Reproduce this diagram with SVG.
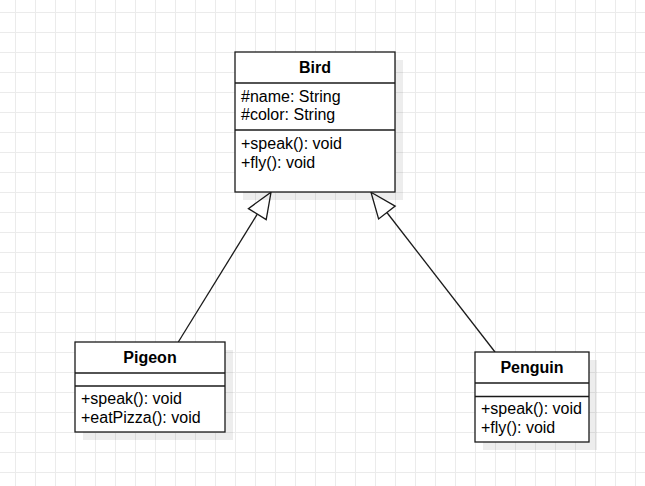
<svg xmlns="http://www.w3.org/2000/svg" width="645" height="486" viewBox="0 0 645 486">
<defs>
<pattern id="grid" x="15" y="12" width="20" height="20" patternUnits="userSpaceOnUse">
<path d="M0.5 0V20M0 0.5H20" fill="none" stroke="#ebebeb" stroke-width="1"/>
</pattern>
<style>
.box{fill:#fff;stroke:#1a1a1a;stroke-width:1.3}
.shadow{fill:#000;opacity:0.07}
.div{stroke:#1a1a1a;stroke-width:1.3}
.title{font-family:"Liberation Sans",Arial,sans-serif;font-size:16px;font-weight:bold;fill:#000;text-anchor:middle}
.t{font-family:"Liberation Sans",Arial,sans-serif;font-size:16px;fill:#000}
.edge{stroke:#1a1a1a;stroke-width:1.3;fill:none}
.head{fill:#fff;stroke:#1a1a1a;stroke-width:1.3;stroke-linejoin:miter}
</style>
</defs>
<rect width="645" height="486" fill="#fff"/>
<rect width="645" height="486" fill="url(#grid)"/>
<g id="connectors">
<line class="edge" x1="257.3" y1="214.1" x2="178.3" y2="342"/>
<polygon class="head" points="271,192.3 266.2,219.6 248.4,208.6"/>
<line class="edge" x1="386.9" y1="212.5" x2="495" y2="352"/>
<polygon class="head" points="371,192.3 395.2,206.1 378.6,218.9"/>
</g>
<g id="bird">
<rect class="shadow" x="243" y="60" width="160" height="140"/>
<rect class="box" x="235" y="52" width="160" height="140"/>
<line class="div" x1="235" y1="83" x2="395" y2="83"/>
<line class="div" x1="235" y1="130" x2="395" y2="130"/>
<text class="title" x="315" y="72.5">Bird</text>
<text class="t" x="241" y="101.5">#name: String</text>
<text class="t" x="241" y="120">#color: String</text>
<text class="t" x="241" y="149">+speak(): void</text>
<text class="t" x="241" y="167.5">+fly(): void</text>
</g>
<g id="pigeon">
<rect class="shadow" x="83" y="350" width="150" height="90"/>
<rect class="box" x="75" y="342" width="150" height="90"/>
<line class="div" x1="75" y1="373" x2="225" y2="373"/>
<line class="div" x1="75" y1="386" x2="225" y2="386"/>
<text class="title" x="150" y="362.5">Pigeon</text>
<text class="t" x="81" y="404">+speak(): void</text>
<text class="t" x="81" y="422.5">+eatPizza(): void</text>
</g>
<g id="penguin">
<rect class="shadow" x="483" y="360" width="114" height="90"/>
<rect class="box" x="475" y="352" width="114" height="90"/>
<line class="div" x1="475" y1="383" x2="589" y2="383"/>
<line class="div" x1="475" y1="396.5" x2="589" y2="396.5"/>
<text class="title" x="532" y="372.5">Penguin</text>
<text class="t" x="481" y="414">+speak(): void</text>
<text class="t" x="481" y="432.5">+fly(): void</text>
</g>
</svg>
